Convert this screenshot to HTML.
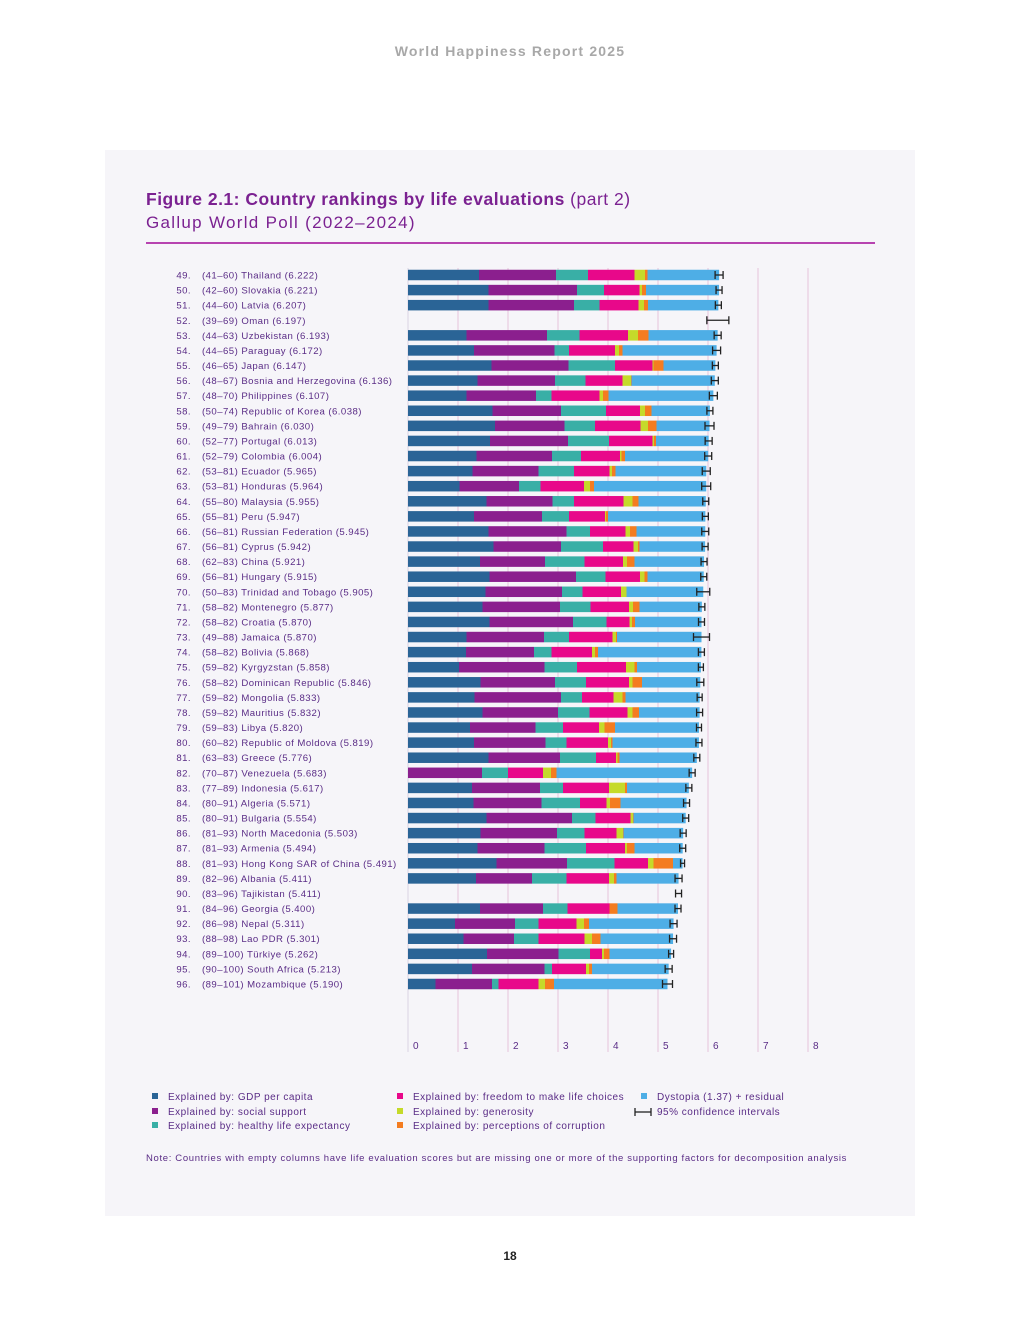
<!DOCTYPE html>
<html><head><meta charset="utf-8"><style>
body{margin:0;background:#fff;}
svg{display:block;font-family:"Liberation Sans",sans-serif;}
</style></head><body>
<svg id="page" width="1020" height="1320" viewBox="0 0 1020 1320" xmlns="http://www.w3.org/2000/svg">
<text x="510" y="56" text-anchor="middle" font-size="14" font-weight="bold" fill="#a8a8a8" letter-spacing="1.2">World Happiness Report 2025</text>
<rect x="105" y="150" width="810" height="1066" fill="#f6f5f9"/>
<text x="146" y="205" font-size="17.5" fill="#7b2191" letter-spacing="0.5"><tspan font-weight="bold">Figure 2.1: Country rankings by life evaluations</tspan> (part 2)</text>
<text x="146" y="228" font-size="17" fill="#7b2191" letter-spacing="1.3">Gallup World Poll (2022–2024)</text>
<rect x="146" y="242" width="729" height="2" fill="#b743b0"/>
<g id="grid"></g>
<g id="rows"></g>
<g id="bars"></g>
<g id="ticks"></g>
<g id="legend" font-size="10" fill="#5a2c86" letter-spacing="0.5">
<rect x="152" y="1093" width="6" height="6" fill="#2a6496"/><text x="168" y="1100">Explained by: GDP per capita</text>
<rect x="152" y="1108" width="6" height="6" fill="#8b1f8e"/><text x="168" y="1115">Explained by: social support</text>
<rect x="152" y="1122" width="6" height="6" fill="#39afa6"/><text x="168" y="1129">Explained by: healthy life expectancy</text>
<rect x="397" y="1093" width="6" height="6" fill="#e8088a"/><text x="413" y="1100">Explained by: freedom to make life choices</text>
<rect x="397" y="1108" width="6" height="6" fill="#c5da2a"/><text x="413" y="1115">Explained by: generosity</text>
<rect x="397" y="1122" width="6" height="6" fill="#f47c20"/><text x="413" y="1129">Explained by: perceptions of corruption</text>
<rect x="641" y="1093" width="6" height="6" fill="#4eaee6"/><text x="657" y="1100">Dystopia (1.37) + residual</text>
<g stroke="#222" stroke-width="1.3"><line x1="635" y1="1112" x2="651" y2="1112"/><line x1="635" y1="1108" x2="635" y2="1116"/><line x1="651" y1="1108" x2="651" y2="1116"/></g><text x="657" y="1115">95% confidence intervals</text>
</g>
<text x="146" y="1161" font-size="9.5" fill="#5a2c86" letter-spacing="0.66">Note: Countries with empty columns have life evaluation scores but are missing one or more of the supporting factors for decomposition analysis</text>
<text x="510" y="1260" text-anchor="middle" font-size="12" font-weight="bold" fill="#222">18</text>
</svg>
<script>
const labels=["(41–60) Thailand (6.222)","(42–60) Slovakia (6.221)","(44–60) Latvia (6.207)","(39–69) Oman (6.197)","(44–63) Uzbekistan (6.193)","(44–65) Paraguay (6.172)","(46–65) Japan (6.147)","(48–67) Bosnia and Herzegovina (6.136)","(48–70) Philippines (6.107)","(50–74) Republic of Korea (6.038)","(49–79) Bahrain (6.030)","(52–77) Portugal (6.013)","(52–79) Colombia (6.004)","(53–81) Ecuador (5.965)","(53–81) Honduras (5.964)","(55–80) Malaysia (5.955)","(55–81) Peru (5.947)","(56–81) Russian Federation (5.945)","(56–81) Cyprus (5.942)","(62–83) China (5.921)","(56–81) Hungary (5.915)","(50–83) Trinidad and Tobago (5.905)","(58–82) Montenegro (5.877)","(58–82) Croatia (5.870)","(49–88) Jamaica (5.870)","(58–82) Bolivia (5.868)","(59–82) Kyrgyzstan (5.858)","(58–82) Dominican Republic (5.846)","(59–82) Mongolia (5.833)","(59–82) Mauritius (5.832)","(59–83) Libya (5.820)","(60–82) Republic of Moldova (5.819)","(63–83) Greece (5.776)","(70–87) Venezuela (5.683)","(77–89) Indonesia (5.617)","(80–91) Algeria (5.571)","(80–91) Bulgaria (5.554)","(81–93) North Macedonia (5.503)","(81–93) Armenia (5.494)","(81–93) Hong Kong SAR of China (5.491)","(82–96) Albania (5.411)","(83–96) Tajikistan (5.411)","(84–96) Georgia (5.400)","(86–98) Nepal (5.311)","(88–98) Lao PDR (5.301)","(89–100) Türkiye (5.262)","(90–100) South Africa (5.213)","(89–101) Mozambique (5.190)"];
const scores=[6.222,6.221,6.207,6.197,6.193,6.172,6.147,6.136,6.107,6.038,6.030,6.013,6.004,5.965,5.964,5.955,5.947,5.945,5.942,5.921,5.915,5.905,5.877,5.870,5.870,5.868,5.858,5.846,5.833,5.832,5.820,5.819,5.776,5.683,5.617,5.571,5.554,5.503,5.494,5.491,5.411,5.411,5.400,5.311,5.301,5.262,5.213,5.190];
const ciHalf=[0.08,0.06,0.06,0.22,0.07,0.08,0.06,0.07,0.08,0.06,0.09,0.07,0.07,0.08,0.09,0.06,0.06,0.07,0.06,0.06,0.06,0.13,0.06,0.06,0.16,0.06,0.05,0.07,0.05,0.06,0.05,0.06,0.06,0.06,0.06,0.06,0.06,0.06,0.06,0.04,0.07,0.06,0.06,0.07,0.07,0.05,0.07,0.1];
const gdp=[1.42,1.61,1.61,null,1.17,1.32,1.67,1.39,1.17,1.69,1.74,1.64,1.37,1.29,1.03,1.57,1.32,1.61,1.71,1.44,1.63,1.55,1.49,1.63,1.17,1.16,1.02,1.45,1.33,1.49,1.24,1.32,1.61,0,1.28,1.31,1.57,1.45,1.39,1.77,1.36,null,1.44,0.94,1.11,1.58,1.28,0.55];
const social=[1.54,1.77,1.71,null,1.61,1.61,1.54,1.55,1.39,1.37,1.39,1.56,1.51,1.32,1.19,1.32,1.36,1.56,1.35,1.30,1.73,1.53,1.55,1.67,1.55,1.36,1.71,1.49,1.73,1.51,1.31,1.43,1.43,1.48,1.36,1.36,1.71,1.53,1.34,1.41,1.12,null,1.26,1.20,1.01,1.43,1.45,1.13];
const health=[0.64,0.54,0.51,null,0.65,0.29,0.93,0.61,0.31,0.90,0.61,0.82,0.58,0.71,0.43,0.43,0.54,0.47,0.84,0.79,0.59,0.41,0.61,0.67,0.50,0.35,0.65,0.62,0.42,0.63,0.55,0.42,0.72,0.52,0.46,0.77,0.47,0.55,0.83,0.95,0.69,null,0.49,0.47,0.49,0.63,0.15,0.13];
const freedom=[0.93,0.71,0.78,null,0.97,0.92,0.75,0.74,0.96,0.68,0.91,0.87,0.78,0.71,0.87,0.99,0.72,0.71,0.61,0.77,0.69,0.77,0.77,0.46,0.87,0.81,0.98,0.86,0.63,0.76,0.72,0.83,0.40,0.70,0.92,0.53,0.70,0.64,0.78,0.67,0.85,null,0.84,0.76,0.92,0.24,0.68,0.80];
const generosity=[0.21,0.05,0.11,null,0.20,0.08,0.02,0.17,0.07,0.10,0.15,0.03,0.03,0.05,0.12,0.18,0.02,0.09,0.09,0.08,0.09,0.11,0.08,0.05,0.07,0.06,0.17,0.07,0.18,0.10,0.11,0.06,0.03,0.16,0.32,0.07,0.05,0.13,0.04,0.11,0.10,null,0.00,0.15,0.15,0.04,0.06,0.13];
const corruption=[0.05,0.08,0.08,null,0.21,0.07,0.20,0.01,0.11,0.13,0.17,0.04,0.07,0.07,0.08,0.12,0.04,0.13,0.03,0.15,0.06,0.00,0.13,0.06,0.02,0.06,0.05,0.19,0.06,0.13,0.21,0.03,0.04,0.11,0.04,0.21,0.01,0.01,0.15,0.39,0.05,null,0.16,0.10,0.17,0.11,0.06,0.18];
const tickLabels=["0","1","2","3","4","5","6","7","8"];

const NS="http://www.w3.org/2000/svg";
const X0=408,UNIT=50,Y0=275,STEP=15.085,BH=10.5;
const xs=v=>X0+v*UNIT;
const ys=i=>Y0+i*STEP;
function mk(tag,attrs,parent){const e=document.createElementNS(NS,tag);for(const k in attrs)e.setAttribute(k,attrs[k]);parent.appendChild(e);return e;}
const grid=document.getElementById('grid'),rows=document.getElementById('rows'),bars=document.getElementById('bars'),ticks=document.getElementById('ticks');
tickLabels.forEach((t,i)=>{
  const l=mk('line',{x1:xs(i),x2:xs(i),y1:268,y2:1052,stroke:i===0?'#d9d3e3':'#e6c3dc','stroke-width':1},grid);
  
  
  const tx=mk('text',{x:xs(i)+5,y:1049,'font-size':10,fill:'#5a2c86'},ticks);
  tx.textContent=t;
  
  
});
const series=[[gdp,'#2a6496','gdp'],[social,'#8b1f8e','social'],[health,'#39afa6','health'],[freedom,'#e8088a','freedom'],[generosity,'#c5da2a','generosity'],[corruption,'#f47c20','corruption']];
labels.forEach((lab,i)=>{
  const y=ys(i);
  const r=mk('text',{x:191,y:y+3.5,'font-size':9.6,fill:'#5a2c86','text-anchor':'end','letter-spacing':0.45},rows);
  r.textContent=(49+i)+'.';
  
  
  const t=mk('text',{x:202,y:y+3.5,'font-size':9.6,fill:'#5a2c86','letter-spacing':0.45},rows);
  t.textContent=lab;
  
  
  if(gdp[i]!==null){
    let acc=0;
    series.forEach(([arr,col,nm])=>{
      const v=arr[i];
      if(v>0){const b=mk('rect',{x:xs(acc),y:y-BH/2,width:v*UNIT,height:BH,fill:col},bars);
        
        }
      acc+=v;
    });
    const d=scores[i]-acc;
    if(d>0){const b=mk('rect',{x:xs(acc),y:y-BH/2,width:d*UNIT,height:BH,fill:'#4eaee6'},bars);
      
      }
  }
  const lo=xs(scores[i]-ciHalf[i]),hi=xs(scores[i]+ciHalf[i]);
  const g=mk('g',{stroke:'#222','stroke-width':1.3},bars);
  
  
  mk('line',{x1:lo,x2:hi,y1:y,y2:y},g);
  mk('line',{x1:lo,x2:lo,y1:y-4,y2:y+4},g);
  mk('line',{x1:hi,x2:hi,y1:y-4,y2:y+4},g);
});
</script>
</body></html>
